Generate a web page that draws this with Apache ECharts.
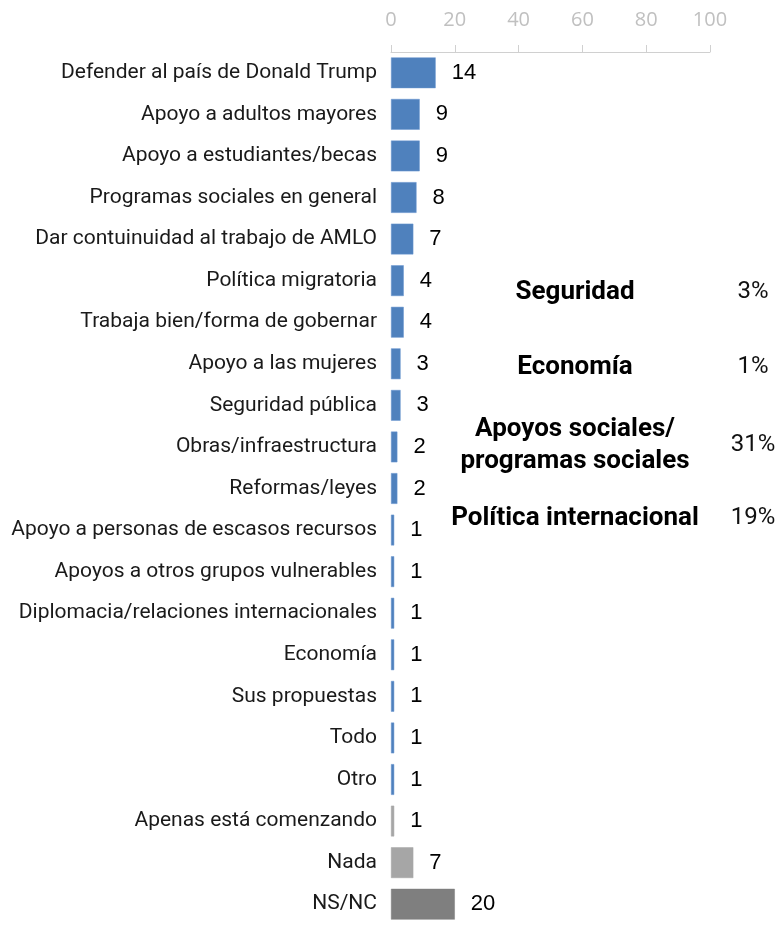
<!DOCTYPE html>
<html>
<head>
<meta charset="utf-8">
<script src="https://cdn.jsdelivr.net/npm/echarts@6/dist/echarts.min.js"></script>
<style>
  html, body { margin: 0; padding: 0; background: #fff; }
  #chart { width: 778px; height: 925px; }
</style>
</head>
<body>
<div id="chart"></div>
<script>
const categories = [
  'Defender al país de Donald Trump',
  'Apoyo a adultos mayores',
  'Apoyo a estudiantes/becas',
  'Programas sociales en general',
  'Dar contuinuidad al trabajo de AMLO',
  'Política migratoria',
  'Trabaja bien/forma de gobernar',
  'Apoyo a las mujeres',
  'Seguridad pública',
  'Obras/infraestructura',
  'Reformas/leyes',
  'Apoyo a personas de escasos recursos',
  'Apoyos a otros grupos vulnerables',
  'Diplomacia/relaciones internacionales',
  'Economía',
  'Sus propuestas',
  'Todo',
  'Otro',
  'Apenas está comenzando',
  'Nada',
  'NS/NC'
];
const values = [14, 9, 9, 8, 7, 4, 4, 3, 3, 2, 2, 1, 1, 1, 1, 1, 1, 1, 1, 7, 20];
const barColors = [
  '#4f81bd', '#4f81bd', '#4f81bd', '#4f81bd', '#4f81bd', '#4f81bd', '#4f81bd',
  '#4f81bd', '#4f81bd', '#4f81bd', '#4f81bd', '#4f81bd', '#4f81bd', '#4f81bd',
  '#4f81bd', '#4f81bd', '#4f81bd', '#4f81bd', '#a6a6a6', '#a6a6a6', '#7f7f7f'
];

// resumen por tema (texto a la derecha)
const groupNames = ['Seguridad', 'Economía', 'Apoyos sociales/\nprogramas sociales', 'Política internacional'];
const groupShares = ['3%', '1%', '31%', '19%'];
const groupY = [292, 367, 445, 518];

const chart = echarts.init(document.getElementById('chart'));

const graphics = [];
groupNames.forEach((name, i) => {
  graphics.push({
    type: 'text',
    position: [575, groupY[i]],
    style: {
      text: name,
      font: 'bold 26px Roboto',
      fill: '#000',
      textAlign: 'center',
      textVerticalAlign: 'middle',
      lineHeight: 32
    }
  });
  graphics.push({
    type: 'text',
    position: [753, groupY[i]],
    style: {
      text: groupShares[i],
      font: '24px Roboto',
      fill: '#111',
      textAlign: 'center',
      textVerticalAlign: 'middle'
    }
  });
});

chart.setOption({
  animation: false,
  grid: { left: 391, right: 68, top: 52, height: 880 },
  xAxis: {
    type: 'value',
    position: 'top',
    min: 0,
    max: 100,
    interval: 20,
    splitLine: { show: false },
    axisLine: { show: true, lineStyle: { color: '#d0d0d0', width: 1 } },
    axisTick: { show: true, length: 7, lineStyle: { color: '#d0d0d0' } },
    axisLabel: { color: '#c0c0c0', fontSize: 20, fontFamily: 'Open Sans', margin: 22 }
  },
  yAxis: {
    type: 'category',
    inverse: true,
    data: categories,
    axisLine: { show: false },
    axisTick: { show: false },
    axisLabel: { color: '#1a1a1a', fontSize: 21, fontFamily: 'Roboto', margin: 14 }
  },
  series: [{
    type: 'bar',
    data: values.map((v, i) => ({
      value: v,
      itemStyle: { color: barColors[i], borderColor: barColors[i] === '#4f81bd' ? '#6a96d0' : barColors[i], borderWidth: 0.5 }
    })),
    barCategoryGap: '26%',
    label: {
      show: true,
      position: 'right',
      distance: 16,
      color: '#000',
      fontSize: 22,
      fontFamily: 'Liberation Sans'
    }
  }],
  graphic: graphics
});
</script>
</body>
</html>
